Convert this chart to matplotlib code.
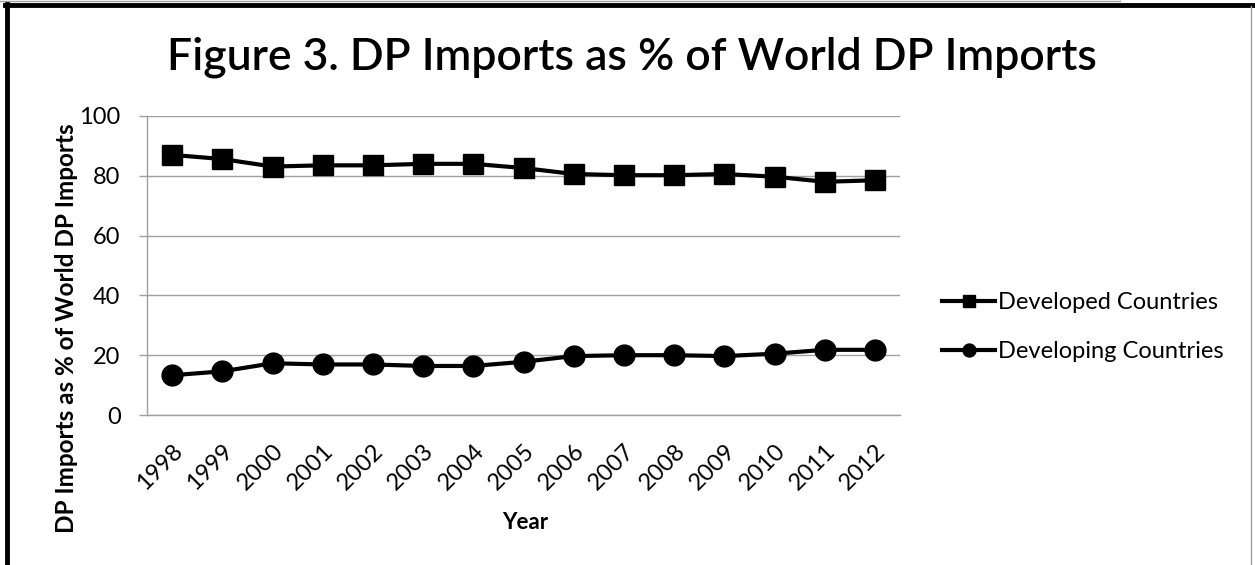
import matplotlib
matplotlib.use("Agg")
import matplotlib.pyplot as plt
from matplotlib.lines import Line2D

plt.rcParams['font.family'] = ['Lato', 'DejaVu Sans']

years = ['1998', '1999', '2000', '2001', '2002', '2003', '2004', '2005',
         '2006', '2007', '2008', '2009', '2010', '2011', '2012']
developed = [87.0, 85.6, 83.1, 83.5, 83.5, 84.0, 84.0, 82.6,
             80.6, 80.2, 80.2, 80.6, 79.7, 78.0, 78.5]
developing = [13.3, 14.6, 17.3, 16.9, 16.9, 16.4, 16.4, 17.8,
              19.7, 20.0, 20.0, 19.7, 20.5, 21.8, 21.8]
yticks = [0, 20, 40, 60, 80, 100]

W, H = 1255, 565
fig = plt.figure(figsize=(W / 100, H / 100), dpi=100)
ax = fig.add_axes([147 / W, 1 - 415 / H, (900 - 147) / W, (415 - 116) / H])

x = list(range(len(years)))
ax.plot(x, developed, color='black', lw=3, marker='s', markersize=15,
        label='Developed Countries', solid_joinstyle='round')
ax.plot(x, developing, color='black', lw=3, marker='o', markersize=15,
        label='Developing Countries', solid_joinstyle='round')

ax.set_xlim(-0.5, len(years) - 0.5)
ax.set_ylim(0, 100)
ax.set_yticks(yticks)
ax.set_xticks(x)
ax.set_xticklabels(years, rotation=45, ha='right', va='top',
                   rotation_mode='anchor', fontsize=17)
ax.tick_params(axis='x', length=0, pad=18)
ax.tick_params(axis='y', length=6, width=1, color='#a0a0a0', labelsize=17, pad=13)
ax.yaxis.grid(True, color='#a0a0a0', lw=1)
ax.set_axisbelow(True)
for s in ['top', 'right']:
    ax.spines[s].set_visible(False)
for s in ['left', 'bottom']:
    ax.spines[s].set_color('#a0a0a0')
    ax.spines[s].set_linewidth(1)

ax.set_xlabel('Year', fontsize=16, fontweight='bold')
ax.xaxis.set_label_coords((525 - 147) / (900 - 147), (415 - 512) / (415 - 116))

fig.text(67 / W, 1 - 328 / H, 'DP Imports as % of World DP Imports', fontsize=17.5,
         fontweight='bold', rotation=90, ha='center', va='center')

fig.text(632 / W, 1 - 70 / H, 'Figure 3. DP Imports as % of World DP Imports',
         ha='center', va='baseline', fontsize=32, fontweight='semibold')

leg = ax.legend(loc='center left', bbox_to_anchor=(921 / W, 1 - 327 / H),
                bbox_transform=fig.transFigure, frameon=False, fontsize=17,
                markerscale=0.62, handlelength=2.25, handletextpad=0.1,
                labelspacing=1.2)

# figure frame
fig.add_artist(Line2D([7 / W, 7 / W], [0, 1 - 3 / H], color='black', lw=3.5,
                      transform=fig.transFigure))
fig.add_artist(Line2D([5 / W, 1], [1 - 4.5 / H, 1 - 4.5 / H], color='black', lw=3.5,
                      transform=fig.transFigure))
fig.add_artist(Line2D([0, 1120 / W], [1 - 0.5 / H, 1 - 0.5 / H], color='#a0a0a0', lw=1,
                      transform=fig.transFigure))
fig.add_artist(Line2D([1250.5 / W, 1250.5 / W], [0, 1 - 6 / H], color='#a0a0a0', lw=1,
                      transform=fig.transFigure))

fig.savefig('out.png', dpi=100)
